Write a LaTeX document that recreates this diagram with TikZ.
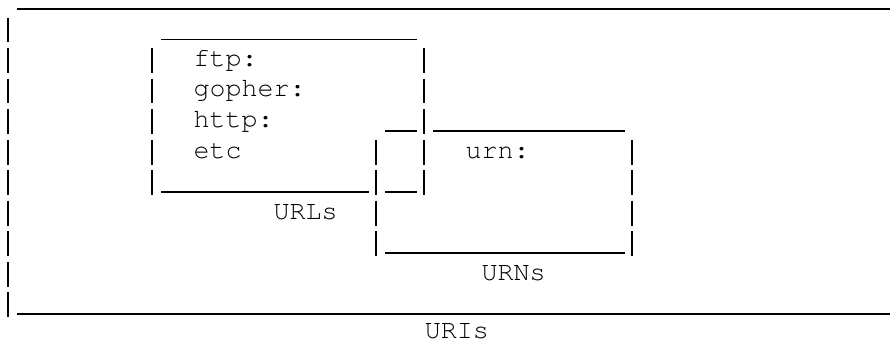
\documentclass[tikz,border=0pt]{standalone}
\usepackage[T1]{fontenc}
\usepackage{courier}

\begin{document}
\begin{tikzpicture}
	[x=8pt, y=-15.25pt,
		vbar/.style		={draw, line width=1pt, dash pattern=on 12.4pt off 2.85pt},
		hbar/.style		={draw, line width=0.9pt},
		entry/.style	={anchor=base west, inner sep=0pt,
									font=\ttfamily\fontsize{13.33pt}{15pt}\selectfont}
	]
\useasboundingbox (-0.081,0) rectangle (55.54,11.213);

% labels
	\node [entry] (ftp)		at (12,2.18)		{ftp:};
	\node [entry] (gopher)	at (12,3.18)		{gopher:};
	\node [entry] (http)		at (12,4.18)		{http:};
	\node [entry] (etc)		at (12,5.18)		{etc};
	\node [entry] (urn)		at (29,5.18)		{urn:};
	\node [entry] (urls)		at (17,7.18)		{URLs};
	\node [entry] (urns)		at (30,9.18)		{URNs};
	\node [entry] (uris)		at (26.45,11.1)	{URIs};

\begin{scope}[every path/.style=vbar]
	% uris
	\path					(0.42,0.58)		-- (0.42,10.39);
	% urls
	\path					(9.42,1.58)		-- (9.42,6.39);
	\path					(26.42,1.58)	-- (26.42,6.39);
	% urns
	\path					(23.42,4.58)	-- (23.42,8.39);
	\path					(39.42,4.58)	-- (39.42,8.39);
\end{scope}

\begin{scope}[every path/.style=hbar]
	% row 0
	\path					(1,0.295)		-- (55.54,0.295);
	% row 1
	\path					(10,1.295)		-- (26,1.295);
	% row 4
	\path					(24,4.295)		-- (26,4.295);
	\path					(27,4.295)		-- (39,4.295);
	% row 6
	\path					(10,6.295)		-- (23,6.295);
	\path					(24,6.295)		-- (26,6.295);
	% row 8
	\path					(24,8.295)		-- (39,8.295);
	% row 10
	\path					(1,10.295)		-- (55.54,10.295);
\end{scope}
\end{tikzpicture}
\end{document}
